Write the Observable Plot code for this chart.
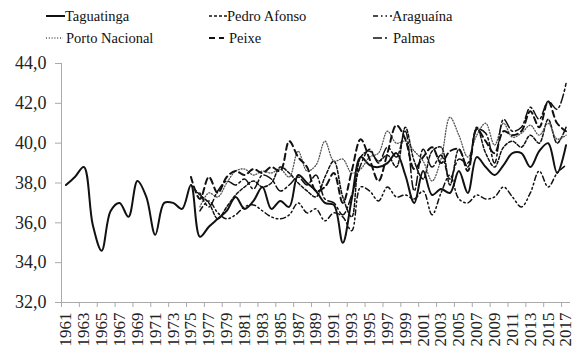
<!DOCTYPE html>
<html><head><meta charset="utf-8">
<script src="https://cdn.jsdelivr.net/npm/d3@7"></script>
<script src="https://cdn.jsdelivr.net/npm/@observablehq/plot@0.6"></script>
<style>
body{margin:0;background:#fff;font-family:"Liberation Serif",serif;}
#wrap{position:relative;width:587px;height:349px;overflow:hidden;}
#legend{position:absolute;left:0;top:0;width:587px;height:50px;}
.item{position:absolute;display:flex;align-items:center;font-size:14.5px;line-height:18px;color:#111;white-space:nowrap}
.item svg{display:block}
#chart{position:absolute;left:0;top:50px;}
#chart svg, #chart svg text{font-family:"Liberation Serif",serif !important;}
</style></head><body>
<div id="wrap"><div id="legend"></div><div id="chart"></div></div>
<script>
// categories
const yearsAll = d3.range(1961, 2018);
const yearsLate = d3.range(1975, 2018);
const seriesNames = ["Taguatinga","Pedro Afonso","Araguaína","Porto Nacional","Peixe","Palmas"];

// series values (°C)
const taguatinga = [37.9,38.3,38.8,35.9,34.6,36.6,37.0,36.3,38.1,37.3,35.4,37.0,37.0,36.7,37.9,
  35.3,35.8,36.2,36.6,37.3,36.7,37.1,37.8,36.7,37.1,36.8,38.4,38.0,37.6,37.0,36.9,35.0,37.2,39.3,38.9,38.8,39.0,39.5,38.4,37.0,
  38.6,37.4,37.7,37.5,38.6,37.5,39.3,38.8,38.4,38.9,39.5,39.5,38.8,39.6,40.0,38.5,39.9];
// 1975..2017
const pedroAfonso = [37.9,37.4,37.0,36.2,36.8,37.4,37.8,38.1,37.8,38.0,38.8,38.5,38.0,37.6,37.3,38.3,39.1,37.3,36.3,39.3,39.6,39.1,39.4,38.8,40.8,39.1,
  38.2,39.6,39.8,37.9,39.7,38.8,40.8,39.5,38.8,39.8,40.1,39.8,40.4,40.0,41.2,40.0,40.8];
const araguaina = [null,36.6,37.1,36.5,36.2,36.4,36.8,36.9,36.6,36.3,36.2,36.4,37.0,36.5,36.7,36.1,36.5,36.3,35.6,37.8,37.6,37.1,37.8,37.3,37.4,37.2,
  37.6,36.4,37.5,38.4,37.2,37.0,37.4,37.2,37.3,37.8,37.3,36.8,37.5,38.6,37.8,38.5,38.9];
const portoNacional = [null,36.8,37.5,37.3,38.0,38.6,38.7,38.4,38.6,38.5,38.7,38.3,39.6,38.6,38.9,40.1,39.1,39.2,38.5,38.7,39.3,39.5,40.6,40.0,40.1,39.6,
  39.1,38.1,39.2,41.3,40.4,39.3,40.4,41.0,39.9,41.0,40.3,40.5,40.9,40.4,41.0,40.2,40.4];
const peixe = [38.3,37.2,38.3,37.5,38.3,38.6,38.4,38.7,38.5,38.8,38.6,40.1,39.3,38.8,37.6,37.8,38.5,37.0,38.6,40.2,39.2,38.1,39.5,40.9,40.2,38.7,
  39.3,39.8,39.0,39.6,39.7,38.6,40.7,40.1,39.5,40.6,40.4,40.6,41.6,40.8,42.1,41.0,40.6];
const palmas = [null,37.5,36.8,37.6,38.1,37.9,38.2,37.7,38.4,38.2,37.6,37.9,38.3,37.9,38.4,37.2,37.0,36.4,37.4,38.9,39.7,39.0,39.8,39.3,40.6,37.6,
  39.7,38.8,39.4,38.2,39.2,39.0,40.7,40.5,39.0,41.2,40.6,40.8,41.8,41.2,42.1,41.7,43.0];

// axis ticks
const yTicks = [32,34,36,38,40,42,44];
const xLabelYears = d3.range(1961, 2018, 2);
const xTickBounds = d3.range(1960.5, 2017, 2);
const xDomain = [1960.5, 2017.5];
const yDomain = [32, 44];

const styles = {
  "Taguatinga": {stroke:"#111", strokeWidth:2},
  "Pedro Afonso": {stroke:"#111", strokeWidth:1.5, strokeDasharray:"3,2"},
  "Araguaína": {stroke:"#111", strokeWidth:1.5, strokeDasharray:"5,3,1.5,3,1.5,3"},
  "Porto Nacional": {stroke:"#555", strokeWidth:1.3, strokeDasharray:"1,1.8"},
  "Peixe": {stroke:"#111", strokeWidth:2, strokeDasharray:"6,4"},
  "Palmas": {stroke:"#111", strokeWidth:1.5, strokeDasharray:"9,3,2,3"}
};

const rows = [];
yearsAll.forEach((y,i) => rows.push({series:"Taguatinga", year:y, value:taguatinga[i]}));
const late = {"Pedro Afonso":pedroAfonso, "Araguaína":araguaina, "Porto Nacional":portoNacional, "Peixe":peixe, "Palmas":palmas};
for (const [k, arr] of Object.entries(late)) yearsLate.forEach((y,i) => { if (arr[i] != null) rows.push({series:k, year:y, value:arr[i]}); });

const fmt = d => d.toFixed(1).replace(".", ",");

const lineMarks = seriesNames.map(s => Plot.line(rows.filter(r => r.series === s), {x:"year", y:"value", curve:"catmull-rom", ...styles[s]}));

const chart = Plot.plot({
  width: 587, height: 299,
  marginLeft: 61, marginRight: 17, marginTop: 13, marginBottom: 47,
  x: {domain: xDomain, axis: null, label: null},
  y: {domain: yDomain, axis: null, label: null},
  style: {fontFamily: "Liberation Serif", background: "white", color:"#222"},
  marks: [
    Plot.axisY({ticks: yTicks, label: null, tickSize: 6, tickPadding: 9, tickFormat: fmt, fontSize: 18, stroke: "#aaa", fill: "#222"}),
    Plot.axisX({ticks: xTickBounds, label: null, tickSize: 5, tickFormat: () => "", stroke: "#aaa"}),
    Plot.axisX({ticks: xLabelYears, label: null, tickSize: 0, tickPadding: 10, tickRotate: -90, tickFormat: d => String(d), fontSize: 17, fill: "#222"}),
    Plot.ruleX([xDomain[0]], {stroke:"#aaa"}),
    Plot.ruleY([yDomain[0]], {stroke:"#aaa"}),
    ...lineMarks
  ]
});
document.getElementById("chart").appendChild(chart);

// legend
const legendItems = [
  {name:"Taguatinga", left:46, top:6.7, w:19, gap:0},
  {name:"Pedro Afonso", left:209, top:6.7, w:18, gap:0},
  {name:"Araguaína", left:373, top:6.7, w:19, gap:0},
  {name:"Porto Nacional", left:46, top:29.3, w:17, gap:3},
  {name:"Peixe", left:209, top:29.3, w:15, gap:5},
  {name:"Palmas", left:373, top:29.3, w:17, gap:3}
];
const leg = document.getElementById("legend");
for (const it of legendItems) {
  const st = styles[it.name];
  const div = document.createElement("div");
  div.className = "item";
  div.style.left = it.left + "px";
  div.style.top = it.top + "px";
  div.innerHTML = `<svg width="${it.w}" height="10"><line x1="0" x2="${it.w}" y1="5" y2="5" stroke="${st.stroke}" stroke-width="${st.strokeWidth}" ${st.strokeDasharray ? `stroke-dasharray="${st.strokeDasharray}"` : ""}/></svg><span style="margin-left:${it.gap}px">${it.name}</span>`;
  leg.appendChild(div);
}
</script></body></html>
